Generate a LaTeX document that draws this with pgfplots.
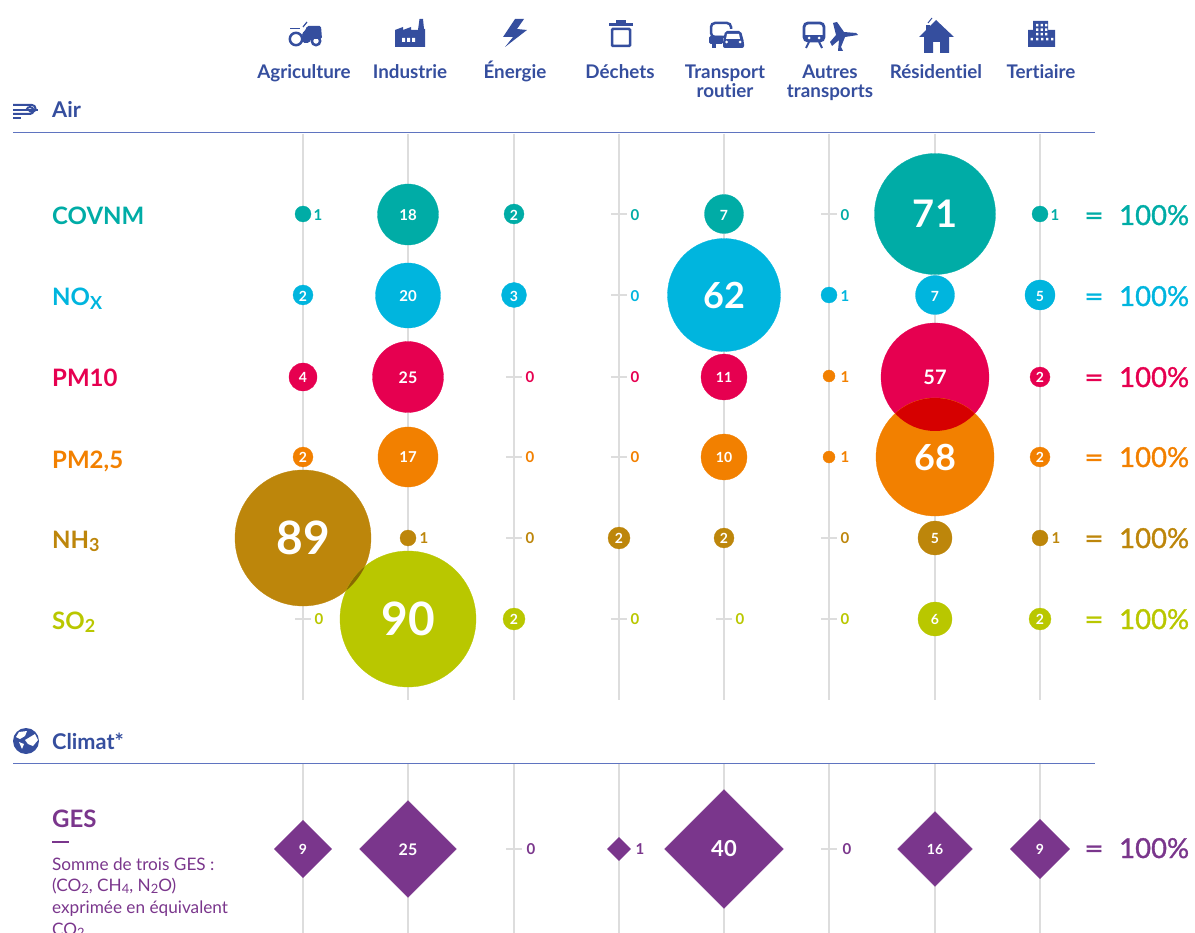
\documentclass[border=0pt]{standalone}
\usepackage{pgfplots}
\usepackage{graphicx}
\usepackage{fontspec}
\pgfplotsset{compat=1.18}
\setmainfont{Lato}[Ligatures=NoCommon]
\newfontfamily\latofb{Lato}[FakeBold=1.2]
\definecolor{cteal}{HTML}{00ACA6}
\definecolor{ccyan}{HTML}{00B5DE}
\definecolor{ccrim}{HTML}{E60050}
\definecolor{corng}{HTML}{F28000}
\definecolor{cbrwn}{HTML}{BD860B}
\definecolor{clime}{HTML}{B9C700}
\definecolor{cpurp}{HTML}{7A368C}
\definecolor{cnavy}{HTML}{354E9E}
\definecolor{crule}{HTML}{5F74C0}
\definecolor{cgrid}{HTML}{DDDDDD}
\definecolor{covA}{HTML}{D60000}
\definecolor{covB}{HTML}{8A6900}
\newcommand\fsz[1]{\fontsize{#1}{#1}\selectfont}
\newcommand\lowered[1]{\raisebox{-.28ex}{\scalebox{.75}{#1}}}

% x y radius colour
\newcommand\pcirc[4]{\addplot[#4, only marks, mark=*, mark size=#3, mark options={fill=#4, line width=0.3pt}] coordinates {(#1,#2)};}
\newcommand\pdiam[3]{\addplot[cpurp, only marks, mark=square*, mark size=#3, mark options={fill=cpurp, line width=0.3pt, rotate=45}] coordinates {(#1,#2)};}
% x y text size colour
\newcommand\plab[5]{\node[font=\fsz{#4}\bfseries, text=#5, inner sep=0pt, anchor=center] at (axis cs:#1,#2) {#3};}
\newcommand\hundred[2]{
  \node[eqn, text=#2, anchor=base] at (axis cs:1094,#1) {\scalebox{1.2}[1]{=}};
  \node[eqn, text=#2, anchor=base west] at (axis cs:1119,#1) {100\%};}
\tikzset{hdr/.style={text=cnavy, font=\fsz{18.8}\bfseries, align=center, inner sep=0pt, anchor=base},
         rlab/.style={font=\fsz{24}\bfseries, inner sep=0pt, anchor=base west},
         eqn/.style={font=\fsz{27.5}\latofb, inner sep=0pt, anchor=base},
         gtxt/.style={text=cpurp, font=\fsz{17.2}, inner sep=0pt, anchor=base west},
         ic/.style={shift={(axis cs:#1)}, x=1pt, y=-1pt}}

\begin{document}
\begin{tikzpicture}
\useasboundingbox (0,0) rectangle (1195pt,933pt);
\clip (0,0) rectangle (1195pt,933pt);
\begin{axis}[at={(0,0)}, anchor=south west, width=1195pt, height=933pt, scale only axis,
  hide axis, clip=false, clip mode=individual, xmin=0, xmax=1195, ymin=0, ymax=933, y dir=reverse,
  every axis plot/.append style={forget plot}]

\pgfplotsinvokeforeach{303,408,514,619,724,829,935,1040}{
  \addplot[cgrid, line width=2pt] coordinates {(#1,134) (#1,700)};
  \addplot[cgrid, line width=2pt] coordinates {(#1,764) (#1,933)};
}
\addplot[crule, line width=1pt] coordinates {(13,133) (1095,133)};
\addplot[crule, line width=1pt] coordinates {(13,763) (1095,763)};

\addplot[cgrid, line width=1.5pt] coordinates {(611,214) (627,214)};
\addplot[cgrid, line width=1.5pt] coordinates {(821,214) (837,214)};
\addplot[cgrid, line width=1.5pt] coordinates {(611,295) (627,295)};
\addplot[cgrid, line width=1.5pt] coordinates {(506,377) (522,377)};
\addplot[cgrid, line width=1.5pt] coordinates {(611,377) (627,377)};
\addplot[cgrid, line width=1.5pt] coordinates {(506,457) (522,457)};
\addplot[cgrid, line width=1.5pt] coordinates {(611,457) (627,457)};
\addplot[cgrid, line width=1.5pt] coordinates {(506,538) (522,538)};
\addplot[cgrid, line width=1.5pt] coordinates {(821,538) (837,538)};
\addplot[cgrid, line width=1.5pt] coordinates {(295,619) (311,619)};
\addplot[cgrid, line width=1.5pt] coordinates {(611,619) (627,619)};
\addplot[cgrid, line width=1.5pt] coordinates {(716,619) (732,619)};
\addplot[cgrid, line width=1.5pt] coordinates {(821,619) (837,619)};
\addplot[cgrid, line width=1.5pt] coordinates {(506,849) (522,849)};
\addplot[cgrid, line width=1.5pt] coordinates {(821,849) (837,849)};

\pcirc{303}{214}{8}{cteal}\pcirc{408}{214.5}{30.5}{cteal}\pcirc{514}{214}{10}{cteal}\pcirc{724}{214}{19.5}{cteal}\pcirc{935}{214}{60.5}{cteal}\pcirc{1040}{214}{8}{cteal}
\pcirc{303}{295}{10}{ccyan}\pcirc{408}{295.5}{32.5}{ccyan}\pcirc{514}{295}{12.5}{ccyan}\pcirc{724}{295}{56.5}{ccyan}\pcirc{829}{295}{8}{ccyan}\pcirc{935}{295}{19.5}{ccyan}\pcirc{1040}{295}{15}{ccyan}
\pcirc{303}{377}{14}{ccrim}\pcirc{408}{377}{35.5}{ccrim}\pcirc{724}{377}{23}{ccrim}\pcirc{829}{376}{6}{corng}\pcirc{935}{377}{54}{ccrim}\pcirc{1040}{377}{10}{ccrim}
\pcirc{303}{457}{10}{corng}\pcirc{408}{457}{30}{corng}\pcirc{724}{457}{23}{corng}\pcirc{829}{457}{6}{corng}\pcirc{935}{457}{59}{corng}\pcirc{1040}{457}{10}{corng}
\pcirc{303}{538}{68}{cbrwn}\pcirc{408}{538}{8}{cbrwn}\pcirc{619}{538}{11}{cbrwn}\pcirc{724}{538}{10}{cbrwn}\pcirc{935}{538}{17}{cbrwn}\pcirc{1040}{538}{8}{cbrwn}
\pcirc{408}{619}{68}{clime}\pcirc{514}{619}{11}{clime}\pcirc{935}{619}{17}{clime}\pcirc{1040}{619}{11}{clime}
\pdiam{303}{849}{20.2}\pdiam{408}{849}{34.2}\pdiam{619}{849}{8.3}\pdiam{724}{849}{42}\pdiam{935}{849}{26.5}\pdiam{1040}{849}{21}

% overlaps of the translucent circles
\begin{scope}
\clip (axis cs:935,457) circle[radius=59pt];
\fill[covA] (axis cs:935,377) circle[radius=54pt];
\end{scope}
\begin{scope}
\clip (axis cs:408,619) circle[radius=68pt];
\fill[covB] (axis cs:303,538) circle[radius=68pt];
\end{scope}

\plab{408}{215}{18}{15}{white}\plab{514}{215}{2}{14}{white}\plab{724}{215}{7}{14}{white}\plab{935}{214}{71}{38}{white}
\plab{318}{215}{1}{15}{cteal}\plab{635}{215}{0}{15}{cteal}\plab{845}{215}{0}{15}{cteal}\plab{1055}{215}{1}{15}{cteal}
\plab{303}{296}{2}{14}{white}\plab{408}{296}{20}{15}{white}\plab{514}{296}{3}{14}{white}\plab{724}{295}{62}{36}{white}\plab{935}{296}{7}{14}{white}\plab{1040}{296}{5}{14}{white}
\plab{635}{296}{0}{15}{ccyan}\plab{845}{296}{1}{15}{ccyan}
\plab{303}{377.5}{4}{14}{white}\plab{408}{377.5}{25}{16}{white}\plab{724}{377.5}{11}{14}{white}\plab{935}{377.5}{57}{20}{white}\plab{1040}{377.5}{2}{14}{white}
\plab{530}{377.5}{0}{15}{ccrim}\plab{635}{377.5}{0}{15}{ccrim}\plab{845}{377}{1}{15}{corng}
\plab{303}{457.5}{2}{14}{white}\plab{408}{457.5}{17}{15}{white}\plab{724}{457.5}{10}{14}{white}\plab{935}{457}{68}{36}{white}\plab{1040}{457.5}{2}{14}{white}
\plab{530}{457.5}{0}{15}{corng}\plab{635}{457.5}{0}{15}{corng}\plab{845}{457.5}{1}{15}{corng}
\plab{303}{538}{89}{46}{white}\plab{619}{538.5}{2}{14}{white}\plab{724}{538.5}{2}{14}{white}\plab{935}{538.5}{5}{14}{white}
\plab{424}{538.5}{1}{15}{cbrwn}\plab{530}{538.5}{0}{15}{cbrwn}\plab{845}{538.5}{0}{15}{cbrwn}\plab{1056}{538.5}{1}{15}{cbrwn}
\plab{408}{619}{90}{46}{white}\plab{514}{619.5}{2}{14}{white}\plab{935}{619.5}{6}{14}{white}\plab{1040}{619.5}{2}{14}{white}
\plab{319}{619.5}{0}{15}{clime}\plab{635}{619.5}{0}{15}{clime}\plab{740}{619.5}{0}{15}{clime}\plab{845}{619.5}{0}{15}{clime}
\plab{303}{849.5}{9}{14}{white}\plab{408}{849.5}{25}{16}{white}\plab{724}{849}{40}{22}{white}\plab{935}{849.5}{16}{14}{white}\plab{1040}{849.5}{9}{14}{white}
\plab{531}{849.5}{0}{15}{cpurp}\plab{640}{849.5}{1}{15}{cpurp}\plab{847}{849.5}{0}{15}{cpurp}

\node[hdr] at (axis cs:304,79) {Agriculture};
\node[hdr] at (axis cs:410,79) {Industrie};
\node[hdr] at (axis cs:515,79) {Énergie};
\node[hdr] at (axis cs:620,79) {Déchets};
\node[hdr] at (axis cs:725,79) {Transport};
\node[hdr] at (axis cs:725,98) {routier};
\node[hdr] at (axis cs:830,79) {Autres};
\node[hdr] at (axis cs:830,98) {transports};
\node[hdr] at (axis cs:936,79) {Résidentiel};
\node[hdr] at (axis cs:1041,79) {Tertiaire};
\node[hdr, anchor=base west, font=\fsz{21.7}\bfseries] at (axis cs:52,118) {Air};
\node[hdr, anchor=base west, font=\fsz{21.7}\bfseries] at (axis cs:52,749) {Climat*};

\node[rlab, text=cteal] at (axis cs:52,225) {COVNM};
\node[rlab, text=ccyan] at (axis cs:52,306) {NO\lowered{X}};
\node[rlab, text=ccrim] at (axis cs:52,387) {PM10};
\node[rlab, text=corng] at (axis cs:52,468) {PM2,5};
\node[rlab, text=cbrwn] at (axis cs:52,548) {NH\lowered{3}};
\node[rlab, text=clime] at (axis cs:52,629) {SO\lowered{2}};
\node[rlab, text=cpurp] at (axis cs:52,827) {GES};
\draw[cpurp, line width=1.5pt] (axis cs:52,842) -- (axis cs:69,842);
\node[gtxt] at (axis cs:52,870) {Somme de trois GES :};
\node[gtxt] at (axis cs:52,891) {(CO\lowered{2}, CH\lowered{4}, N\lowered{2}O)};
\node[gtxt] at (axis cs:52,913) {exprimée en équivalent};
\node[gtxt] at (axis cs:52,935) {CO\lowered{2}};

\hundred{225}{cteal}\hundred{306}{ccyan}\hundred{387}{ccrim}\hundred{467}{corng}
\hundred{548}{cbrwn}\hundred{629}{clime}\hundred{858}{cpurp}

% icons (local units: 1 = one pixel, y downwards)
% tractor
\begin{scope}[ic={288,20}]
\draw[cnavy, line width=2.5pt] (8,19) circle[radius=6.2];
\draw[cnavy, line width=2.5pt] (28,21) circle[radius=4.2];
\fill[cnavy, rounded corners=1.5pt] (14,13) -- (17,11) -- (19,6) -- (33,6) -- (34,19) -- (23,19) -- (21,23) -- (15,23) -- cycle;
\draw[cnavy, line width=1.5pt] (2,8.5) -- (12,8.5);
\draw[cnavy, line width=1.2pt] (15,7) -- (19,2);
\end{scope}
% factory
\begin{scope}[ic={395,19}]
\fill[cnavy] (0,28) -- (0,11) -- (8,8) -- (8,11) -- (16,8) -- (16,11) -- (23,11) -- (24.5,0) -- (28,0) -- (29,10) -- (30,10) -- (30,28) -- cycle;
\fill[white] (7,19) rectangle (10,23) (12,19) rectangle (15,23) (17,19) rectangle (20,23);
\end{scope}
% lightning
\begin{scope}[ic={503,19}]
\fill[cnavy] (12,0) -- (0,18) -- (10,18) -- (2,28) -- (24,11) -- (14,10) -- (21,0) -- cycle;
\end{scope}
% bin
\begin{scope}[ic={608,18}]
\fill[cnavy] (1,5) rectangle (25,8);
\fill[cnavy] (8,2) rectangle (18,5);
\draw[cnavy, line width=2.5pt, rounded corners=1pt] (4,11) rectangle (22,28);
\end{scope}
% bus and car
\begin{scope}[ic={709,20}]
\draw[cnavy, line width=2.5pt, rounded corners=4pt] (16,17) -- (2,17) -- (2,3) -- (22,3) -- (22,9);
\fill[cnavy, rounded corners=1.5pt] (0,16) rectangle (14,24);
\fill[cnavy] (3,24) rectangle (7,28);
\fill[cnavy, rounded corners=2pt] (14,22) -- (16,11) -- (32,11) -- (35,22) -- (35,28) -- (14,28) -- cycle;
\fill[white] (18,14) -- (30,14) -- (31,19) -- (17,19) -- cycle;
\fill[white] (17.5,22) circle[radius=1.5] (31,22) circle[radius=1.5];
\end{scope}
% train and plane
\begin{scope}[ic={802,20}]
\draw[cnavy, line width=2.8pt, rounded corners=4pt] (2,3) rectangle (22,21);
\fill[cnavy] (2,15) rectangle (22,21);
\fill[white] (7,18) circle[radius=1.5] (17,18) circle[radius=1.5];
\draw[cnavy, line width=2pt] (7,22) -- (4,28) (17,22) -- (20,28);
\fill[cnavy] (31,3) -- (35,2) -- (42,12) -- (54,13) -- (56,15) -- (43,17) -- (39,27) -- (41,31)-- (36,31) -- (37,20) -- (30,26) -- (28,22) -- (34,15) -- cycle;
\end{scope}
% house
\begin{scope}[ic={919,17}]
\fill[cnavy] (0,20) -- (17,3) -- (35,20) -- (30,20) -- (30,36) -- (21,36) -- (21,25) -- (14,25) -- (14,36) -- (5,36) -- (5,20) -- cycle;
\fill[cnavy] (7,14) rectangle (11,8);
\draw[cnavy, line width=1pt] (9,6) -- (13,1);
\end{scope}
% building
\begin{scope}[ic={1028,21}]
\fill[cnavy] (0,9) -- (5,9) -- (5,0) -- (20,0) -- (20,9) -- (27,9) -- (27,26) -- (0,26) -- cycle;
\fill[white] (8,3) rectangle +(2.4,2.4) (12.5,3) rectangle +(2.4,2.4) (17,3) rectangle +(2.4,2.4)
 (8,7.5) rectangle +(2.4,2.4) (12.5,7.5) rectangle +(2.4,2.4) (17,7.5) rectangle +(2.4,2.4)
 (8,12) rectangle +(2.4,2.4) (12.5,12) rectangle +(2.4,2.4) (17,12) rectangle +(2.4,2.4)
 (2.5,17) rectangle +(2.4,2.4) (8,17) rectangle +(2.4,2.4) (13,17) rectangle +(2.4,2.4) (18,17) rectangle +(2.4,2.4) (23,17) rectangle +(2.4,2.4);
\end{scope}
% wind
\begin{scope}[ic={13,99}]
\draw[cnavy, line width=2pt] (0,6) -- (19,6) arc[start angle=-90,end angle=160,radius=3.5];
\draw[cnavy, line width=2pt] (0,11) -- (25,11);
\draw[cnavy, line width=2pt] (0,15) -- (17,15) arc[start angle=90,end angle=-160,radius=3.5];
\draw[cnavy, line width=2pt] (0,19) -- (8,19);
\end{scope}
% globe
\fill[cnavy] (axis cs:26,741) circle[radius=13pt];
\begin{scope}[ic={13,728}]
\fill[white] (6,4) -- (14,3) -- (12,8) -- (7,11) -- (3,9) -- cycle;
\fill[white] (12,12) -- (22,6) -- (25,12) -- (20,18) -- (15,16) -- cycle;
\fill[white] (6,14) -- (11,16) -- (9,21) -- cycle;
\end{scope}
\end{axis}
\end{tikzpicture}
\end{document}
